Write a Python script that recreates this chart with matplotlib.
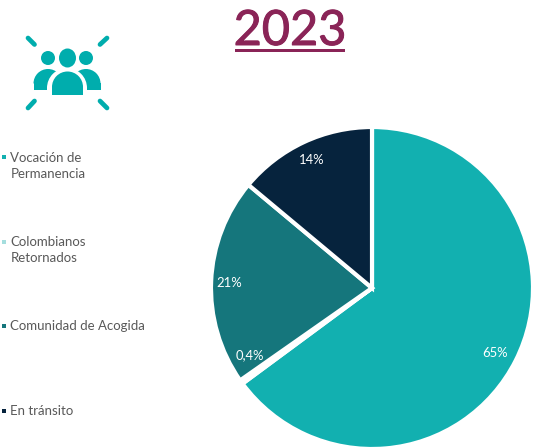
import matplotlib
matplotlib.use("Agg")
import matplotlib.pyplot as plt
import matplotlib.patheffects as pe
from matplotlib.patches import Circle, Wedge, Rectangle, Ellipse

plt.rcParams['font.family'] = ['Lato', 'DejaVu Sans']

W, H = 548, 448
title = "2023"
categories = ["Vocación de\nPermanencia", "Colombianos\nRetornados", "Comunidad de Acogida", "En tránsito"]
values = [65.2, 0.4, 20.9, 14.0]
value_labels = ["65%", "0,4%", "21%", "14%"]
colors = ["#12B0B0", "#A5DEDE", "#15767C", "#06233D"]
legend_y = [165.5, 250.5, 326, 411]
label_pos = [(495, 353), (249.5, 355.5), (229, 283), (312, 160)]
text_col = "#595959"
title_col = "#8A2457"
icon_col = "#00ADAD"

fig = plt.figure(figsize=(W / 100, H / 100), dpi=100)

# pie
cx, cy, r = 372, 288, 161
ax = fig.add_axes([(cx - r) / W, 1 - (cy + r) / H, 2 * r / W, 2 * r / H])
ax.pie(values, colors=colors, startangle=90, counterclock=False, radius=1.0,
       wedgeprops=dict(edgecolor="white", linewidth=3))
ax.set_xlim(-1, 1)
ax.set_ylim(-1, 1)
ax.set_aspect("equal")
ax.axis("off")

# overlay in pixel coordinates
top = fig.add_axes([0, 0, 1, 1], zorder=5)
top.set_xlim(0, W)
top.set_ylim(H, 0)
top.axis("off")

for (x, y), s in zip(label_pos, value_labels):
    top.text(x, y, s, color="white", fontsize=9.4, ha="center", va="center")

for y, c, s in zip(legend_y, colors, categories):
    first_y = y - 8 if "\n" in s else y
    top.add_patch(Rectangle((2, first_y - 2), 4, 4, color=c, lw=0))
    top.text(10.5, y, s, color=text_col, fontsize=9.5, ha="left", va="center", linespacing=1.4)

# title
top.text(290, 31, title, color=title_col, fontsize=35, ha="center", va="center",
         path_effects=[pe.withStroke(linewidth=0.7, foreground=title_col)])
top.add_patch(Rectangle((235, 49.5), 110, 3, color=title_col, lw=0))

# icon: y axis is inverted, so Wedge angles 180-360 open upward on screen
for x in (48, 86):
    top.add_patch(Wedge((x, 83.5), 14.5, 180, 360, color=icon_col, lw=0))
    top.add_patch(Rectangle((x - 14.5, 83), 29, 7, color=icon_col, lw=0))
top.add_patch(Wedge((67, 88), 20, 180, 360, color="white", lw=0))
top.add_patch(Rectangle((47, 87.5), 40, 10, color="white", lw=0))
top.add_patch(Wedge((67.5, 87), 15.5, 180, 360, color=icon_col, lw=0))
top.add_patch(Rectangle((52, 86.5), 31, 9, color=icon_col, lw=0))
top.add_patch(Ellipse((67.5, 58), 17, 19, color=icon_col, lw=0))
top.add_patch(Circle((48, 58), 7, color=icon_col, lw=0))
top.add_patch(Circle((86, 58), 7, color=icon_col, lw=0))
for (x0, y0, x1, y1) in [(28, 38, 34.5, 44.5), (107, 38, 100, 44.5), (28, 108, 34.5, 101), (107, 108, 100, 101)]:
    top.plot([x0, x1], [y0, y1], color=icon_col, lw=3.4, solid_capstyle="round")

fig.savefig("out.png", dpi=100)
